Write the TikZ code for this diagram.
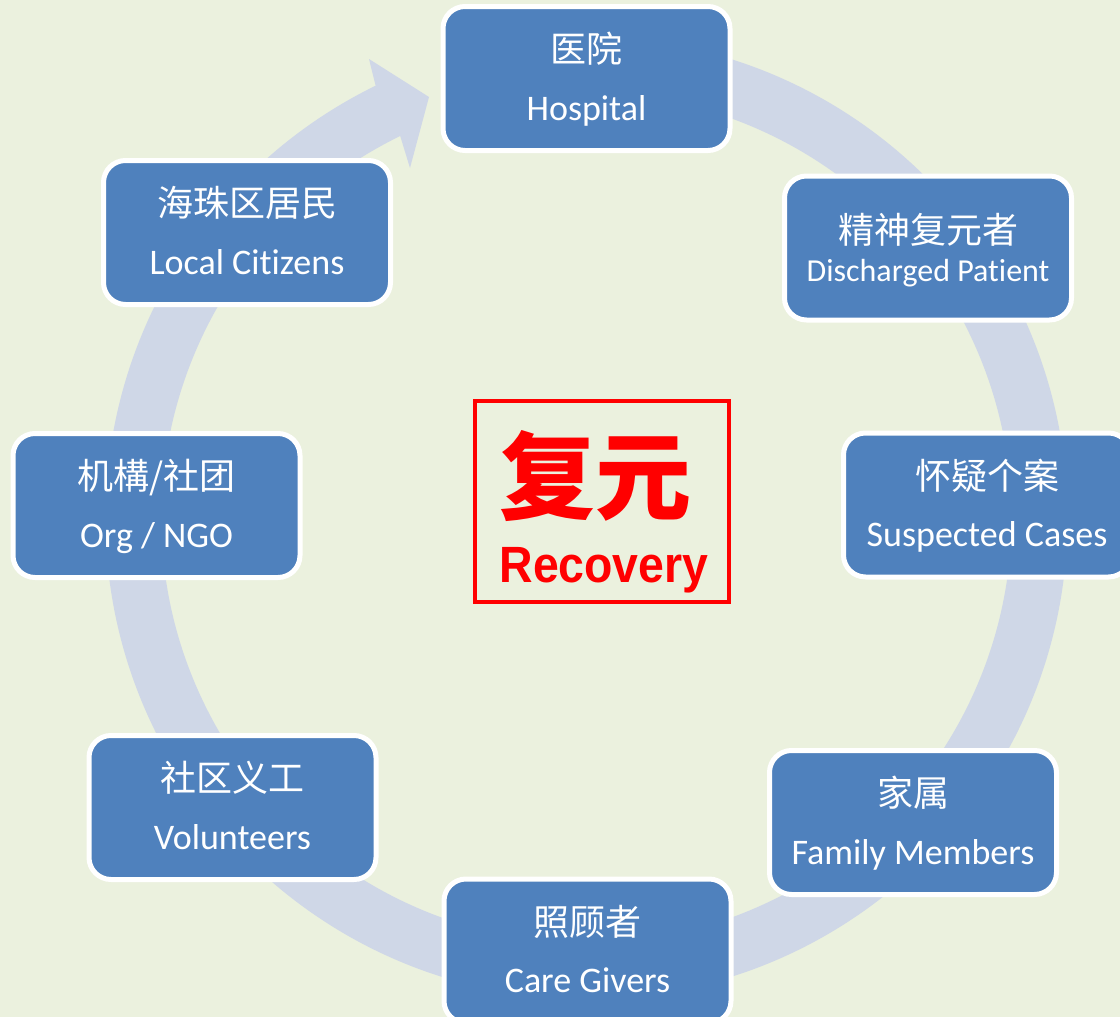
\documentclass[tikz,border=0pt]{standalone}
\usepackage{fontspec}
\setmainfont{Carlito}[Ligatures=NoCommon]
\newfontfamily\cjk{Noto Sans CJK SC}
\newfontfamily\recfont{Liberation Sans}[FakeStretch=0.91]
\definecolor{bg}{HTML}{EBF1DE}
\definecolor{boxblue}{HTML}{4F81BD}
\definecolor{ringc}{HTML}{CFD7E7}
\begin{document}
\begin{tikzpicture}[x=1pt,y=1pt,
  box/.style={draw=white, line width=5pt, fill=boxblue, rounded corners=22pt,
    minimum width=287pt, minimum height=144pt, inner sep=0pt},
  zh/.style={anchor=base, text=white, font=\cjk\fontsize{36}{40}\selectfont, inner sep=0pt},
  en/.style={anchor=base, text=white, font=\fontsize{36}{40}\selectfont, inner sep=0pt},
  ensmall/.style={anchor=base, text=white, font=\fontsize{32}{36}\selectfont, inner sep=0pt}]
\clip (0,0) rectangle (1120,-1017);
\fill[bg] (0,0) rectangle (1120,-1017);
% ring arrow
\fill[ringc] (586.5,-37) arc[start angle=90, end angle=-244, radius=481]
  -- (369,-59) -- (429,-97) -- (410,-168) -- (400.2,-136)
  arc[start angle=-244, end angle=90, radius=425] -- cycle;
% boxes
\node[box] (hosp) at (586.5,-78.5) {};
\node[box] (disc) at (928,-248) {};
\node[box] (susp) at (987,-505) {};
\node[box] (fam) at (913,-822.5) {};
\node[box] (care) at (587.5,-951) {};
\node[box] (vol) at (232.5,-807.5) {};
\node[box] (org) at (156.5,-505.5) {};
\node[box] (loc) at (247,-232.5) {};
% labels
\node[zh] (hosp-zh) at ([yshift=16pt]hosp.center) {医院};
\node[en] (hosp-en) at ([yshift=-41.5pt]hosp.center) {Hospital};
\node[zh] (disc-zh) at ([yshift=4.3pt]disc.center) {精神复元者};
\node[ensmall] (disc-en) at ([yshift=-33.3pt]disc.center) {Discharged Patient};
\node[zh] (susp-zh) at ([yshift=16pt]susp.center) {怀疑个案};
\node[en] (susp-en) at ([yshift=-41.5pt]susp.center) {Suspected Cases};
\node[zh] (fam-zh) at ([yshift=16pt]fam.center) {家属};
\node[en] (fam-en) at ([yshift=-41.5pt]fam.center) {Family Members};
\node[zh] (care-zh) at ([yshift=16pt]care.center) {照顾者};
\node[en] (care-en) at ([yshift=-41.5pt]care.center) {Care Givers};
\node[zh] (vol-zh) at ([yshift=16pt]vol.center) {社区义工};
\node[en] (vol-en) at ([yshift=-41.5pt]vol.center) {Volunteers};
\node[zh] (org-zh) at ([yshift=16pt]org.center) {机構/社团};
\node[en] (org-en) at ([yshift=-41.5pt]org.center) {Org / NGO};
\node[zh] (loc-zh) at ([yshift=16pt]loc.center) {海珠区居民};
\node[en] (loc-en) at ([yshift=-41.5pt]loc.center) {Local Citizens};
% centre
\node[draw=red, line width=4pt, minimum width=254pt, minimum height=201pt, inner sep=0pt] (rec) at (602,-501.5) {};
\node[anchor=base, text=red, font=\cjk\bfseries\fontsize{96}{100}\selectfont, inner sep=0pt] (rec-zh) at (595,-512) {复元};
\node[anchor=base, text=red, font=\recfont\bfseries\fontsize{51}{55}\selectfont, inner sep=0pt] (rec-en) at (604,-582) {Recovery};
\end{tikzpicture}
\end{document}
